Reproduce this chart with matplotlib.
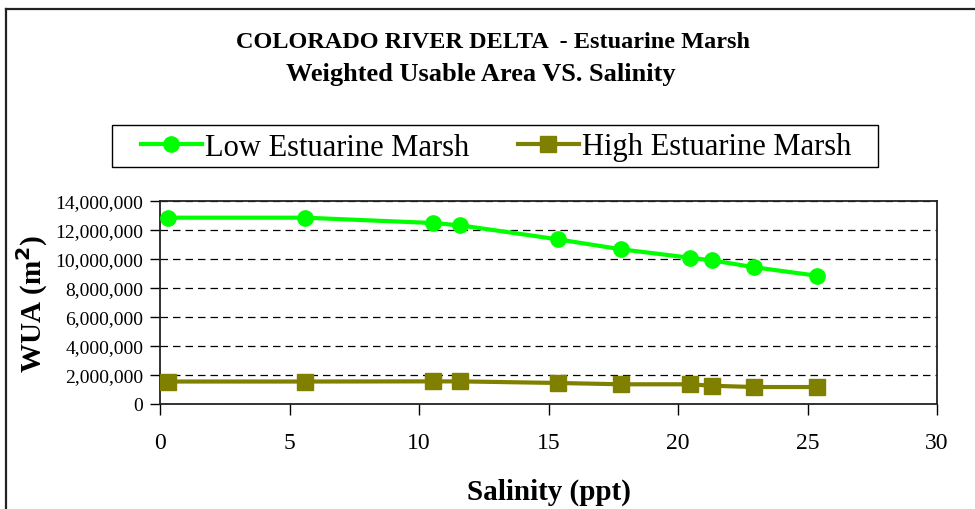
import matplotlib
matplotlib.use('Agg')
import matplotlib.pyplot as plt
from matplotlib.lines import Line2D
from matplotlib.patches import Rectangle
from matplotlib.ticker import FuncFormatter

# salinity (ppt) at each sample and weighted usable area (m2)
salinity = [0.3, 5.6, 10.55, 11.6, 15.35, 17.8, 20.45, 21.3, 22.95, 25.35]
low_marsh = [12850000, 12850000, 12480000, 12320000, 11360000, 10670000,
             10090000, 9910000, 9430000, 8850000]
high_marsh = [1550000, 1550000, 1560000, 1560000, 1450000, 1360000,
              1360000, 1260000, 1170000, 1170000]
x_ticks = [0, 5, 10, 15, 20, 25, 30]
y_ticks = list(range(0, 14000001, 2000000))

serif = ['Liberation Serif', 'DejaVu Serif']
plt.rcParams['font.family'] = serif

fig = plt.figure(figsize=(9.75, 5.10), dpi=100)
ax = fig.add_axes([160 / 975, 1 - 405 / 510, 777 / 975, 203 / 510])

ax.plot(salinity, low_marsh, color='#00ff00', lw=3, marker='o', ms=11,
        label='Low Estuarine Marsh', zorder=3)
ax.plot(salinity, high_marsh, color='#808000', lw=3, marker='s', ms=11,
        label='High Estuarine Marsh', zorder=3)

ax.set_xlim(0, 30)
ax.set_ylim(0, 14000000)
ax.set_xticks(x_ticks)
ax.set_yticks(y_ticks)
ax.yaxis.set_major_formatter(FuncFormatter(lambda v, p: f'{int(v):,}'))
ax.grid(axis='y', color='black', linestyle=(0, (6, 4)), lw=0.9)
ax.tick_params(axis='y', direction='out', length=7, width=1, labelsize=14, pad=5)
ax.tick_params(axis='x', direction='out', length=8, width=1, labelsize=17, pad=12)
for s in ax.spines.values():
    s.set_linewidth(1.3)
    s.set_color('#222222')

ax.set_xlabel('Salinity (ppt)', fontsize=21, fontweight='bold', labelpad=18)
ax.set_ylabel('WUA (m$^\\mathbf{2}$)', fontsize=21, fontweight='bold', labelpad=4)

fig.text(493 / 975, 1 - 42 / 510, 'COLORADO RIVER DELTA  - Estuarine Marsh',
         ha='center', va='center', fontsize=17.5, fontweight='bold')
fig.text(481 / 975, 1 - 74 / 510, 'Weighted Usable Area VS. Salinity',
         ha='center', va='center', fontsize=19, fontweight='bold')

# legend box drawn separately so its padding can be set freely
fig.add_artist(Rectangle((112 / 975, 1 - 168 / 510), 766 / 975, 42 / 510,
                         transform=fig.transFigure, fill=False,
                         edgecolor='black', lw=1.0))
fig.legend(loc='center', bbox_to_anchor=(496 / 975, 1 - 148 / 510), ncol=2,
           fontsize=22, handlelength=2.0, handletextpad=0.1,
           columnspacing=1.6, frameon=False, borderpad=0.1)

# outer border along the left and top edges
fig.add_artist(Line2D([5.5 / 975, 5.5 / 975], [0, 1 - 9.5 / 510],
                      transform=fig.transFigure, color='#222222', lw=1.6))
fig.add_artist(Line2D([5.5 / 975, 1], [1 - 9.5 / 510, 1 - 9.5 / 510],
                      transform=fig.transFigure, color='#222222', lw=1.6))

fig.savefig('out.png', dpi=100)
